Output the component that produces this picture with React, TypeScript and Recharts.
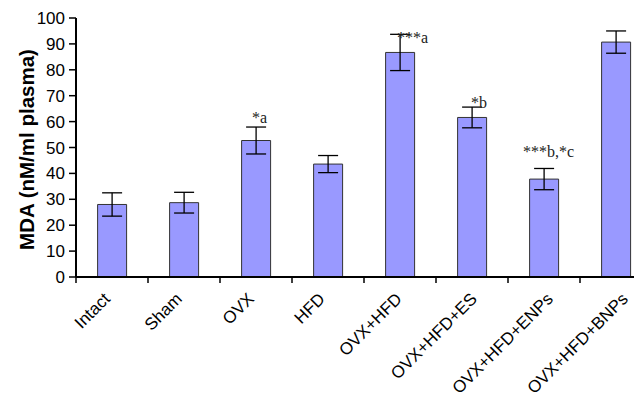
import { Bar, BarChart, ErrorBar, Label, LabelList, XAxis, YAxis } from 'recharts';

const groups = ['Intact', 'Sham', 'OVX', 'HFD', 'OVX+HFD', 'OVX+HFD+ES', 'OVX+HFD+ENPs', 'OVX+HFD+BNPs'];
const mda = [28, 28.7, 52.7, 43.6, 86.7, 61.6, 37.8, 90.7];
const sem = [4.5, 4, 5.2, 3.3, 7, 4, 4.1, 4.3];
const marks = ['', '', '*a', '', '***a', '*b', '***b,*c', ''];
const yTicks = [0, 10, 20, 30, 40, 50, 60, 70, 80, 90, 100];

const data = groups.map((name, i) => ({ name, mda: mda[i], sem: sem[i], mark: marks[i] }));

// hand placement of the significance marks, like in the original figure
const markShift: Record<number, { dx: number; dy: number }> = {
  2: { dx: -4, dy: -18 },
  4: { dx: -3, dy: -9 },
  5: { dx: -1, dy: -9 },
  6: { dx: -21, dy: -22 },
};
// long category names sit a bit right of their slot in the original
const tickNudge = [-1, -1, -1, -2, 3, 6, 10, 13];

const sans = "'Liberation Sans', Arial, sans-serif";

function GroupTick(props: any) {
  const { x, y, payload, width, index } = props;
  const band = width / groups.length;
  const left = x - band / 2;
  const i = index ?? groups.indexOf(payload.value);
  return (
    <g>
      <line x1={left} y1={y - 8} x2={left} y2={y - 2} stroke="#000" strokeWidth={1.5} />
      <text
        transform={`translate(${x + (tickNudge[i] ?? 0)},${y + 15}) rotate(-45)`}
        textAnchor="end"
        fontSize={17}
        fontFamily={sans}
        fill="#000"
      >
        {payload.value}
      </text>
    </g>
  );
}

function Mark(props: any) {
  const { x, y, width, index, value } = props;
  if (!value) return null;
  const s = markShift[index] ?? { dx: -3, dy: -10 };
  return (
    <text
      x={x + width / 2 + s.dx}
      y={y + s.dy}
      fontSize={16}
      fontFamily="'Liberation Serif', 'Times New Roman', serif"
      fill="#222"
      textAnchor="start"
    >
      {value}
    </text>
  );
}

export default function App() {
  return (
    <div style={{ margin: -8, width: 660, height: 400, background: '#fff' }}>
      <BarChart
        width={660}
        height={400}
        data={data}
        margin={{ top: 18, right: 8, left: 0, bottom: 0 }}
        barCategoryGap="30%"
      >
        <XAxis
          dataKey="name"
          interval={0}
          height={123}
          tickLine={false}
          axisLine={{ stroke: '#000', strokeWidth: 2 }}
          tick={<GroupTick />}
        />
        <YAxis
          width={76}
          domain={[0, 100]}
          ticks={yTicks}
          interval={0}
          tickSize={7}
          tickMargin={4}
          axisLine={{ stroke: '#000', strokeWidth: 2 }}
          tickLine={{ stroke: '#000', strokeWidth: 1.5 }}
          tick={{ fontSize: 17, fill: '#000', fontFamily: sans }}
        >
          <Label
            value="MDA (nM/ml plasma)"
            angle={-90}
            position="insideLeft"
            offset={27}
            dy={2}
            style={{
              textAnchor: 'middle',
              fontSize: 20.5,
              fontWeight: 'bold',
              fill: '#000',
              fontFamily: sans,
            }}
          />
        </YAxis>
        <Bar dataKey="mda" fill="#9999ff" stroke="#333" strokeWidth={1} isAnimationActive={false}>
          <ErrorBar dataKey="sem" width={10} stroke="#000" strokeWidth={1.3} />
          <LabelList dataKey="mark" content={<Mark />} />
        </Bar>
      </BarChart>
    </div>
  );
}
